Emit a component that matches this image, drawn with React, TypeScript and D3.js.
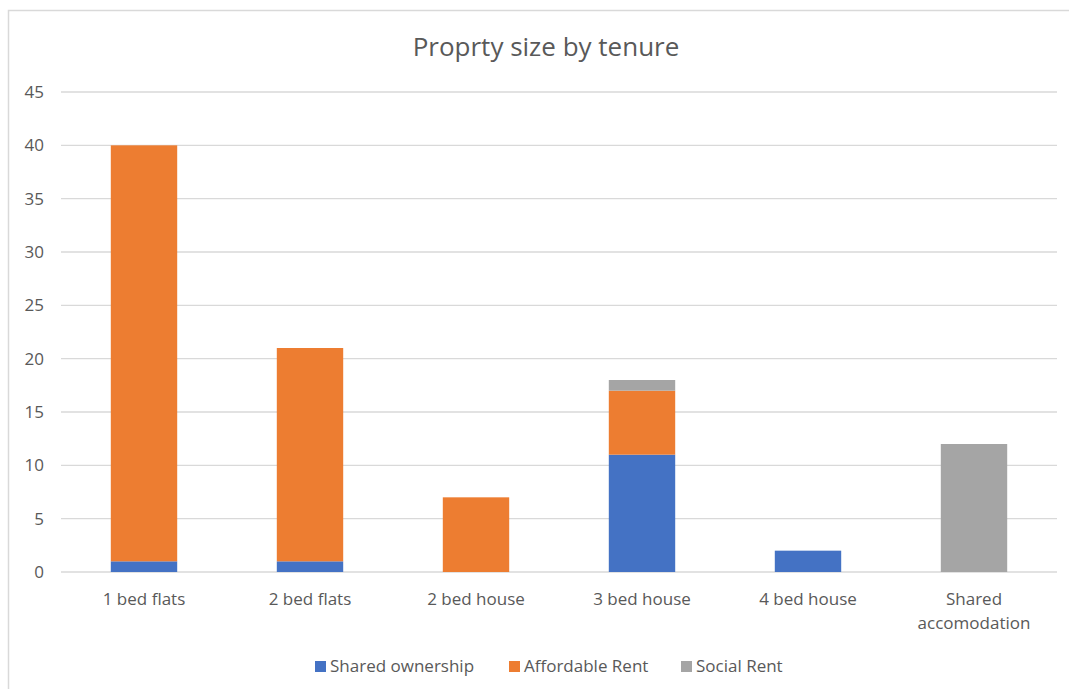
import React from "react";
import * as d3 from "d3";

const categories = ["1 bed flats", "2 bed flats", "2 bed house", "3 bed house", "4 bed house", "Shared\naccomodation"];
const seriesNames = ["Shared ownership", "Affordable Rent", "Social Rent"];
const sharedOwnership = [1, 1, 0, 11, 2, 0];
const affordableRent = [39, 20, 7, 6, 0, 0];
const socialRent = [0, 0, 0, 1, 0, 12];
const colors = ["#4472C4", "#ED7D31", "#A5A5A5"];
const yTicks = [0, 5, 10, 15, 20, 25, 30, 35, 40, 45];

const W = 1069, H = 689;
const left = 61, right = 1057, top = 92, bottom = 572;
const font = "'Open Sans', 'Noto Sans', sans-serif";

export default function App() {
  const x = d3.scaleBand<string>().domain(categories).range([left, right]).paddingInner(0.6).paddingOuter(0.3);
  const y = d3.scaleLinear().domain([0, 45]).range([bottom, top]);
  const rows = categories.map((c, i) => ({ cat: c, s0: sharedOwnership[i], s1: affordableRent[i], s2: socialRent[i] }));
  const stack = d3.stack<any>().keys(["s0", "s1", "s2"])(rows);

  return (
    <svg width={W} height={H} style={{ position: "absolute", left: 0, top: 0, background: "#fff" }} fontFamily={font}>
      <rect x={8.5} y={10.5} width={1070} height={700} fill="#fff" stroke="#d9d9d9" strokeWidth={1.5} />
      <text x={546} y={56} textAnchor="middle" fontSize={26} fill="#595959">Proprty size by tenure</text>
      {yTicks.map(t => (
        <g key={t}>
          <line x1={left} x2={right} y1={y(t)} y2={y(t)} stroke="#d9d9d9" strokeWidth={1.3} />
          <text x={44} y={y(t) + 6} textAnchor="end" fontSize={17} fill="#595959">{t}</text>
        </g>
      ))}
      {stack.map((s, si) => (
        <g key={si} fill={colors[si]}>
          {s.map((d, i) => d[1] - d[0] > 0 ? (
            <rect key={i} x={x(categories[i])} width={x.bandwidth()} y={y(d[1])} height={y(d[0]) - y(d[1])} />
          ) : null)}
        </g>
      ))}
      {categories.map(c => {
        const lines = c.split("\n");
        return (
          <text key={c} x={(x(c) as number) + x.bandwidth() / 2} y={605} textAnchor="middle" fontSize={17} fill="#595959">
            {lines.map((l, j) => <tspan key={j} x={(x(c) as number) + x.bandwidth() / 2} dy={j === 0 ? 0 : 24}>{l}</tspan>)}
          </text>
        );
      })}
      {(() => {
        const starts = [315, 509, 681];
        return seriesNames.map((n, i) => (
          <g key={n}>
            <rect x={starts[i]} y={661} width={11} height={11} fill={colors[i]} />
            <text x={starts[i] + 15} y={672} fontSize={17} fill="#595959">{n}</text>
          </g>
        ));
      })()}
    </svg>
  );
}
